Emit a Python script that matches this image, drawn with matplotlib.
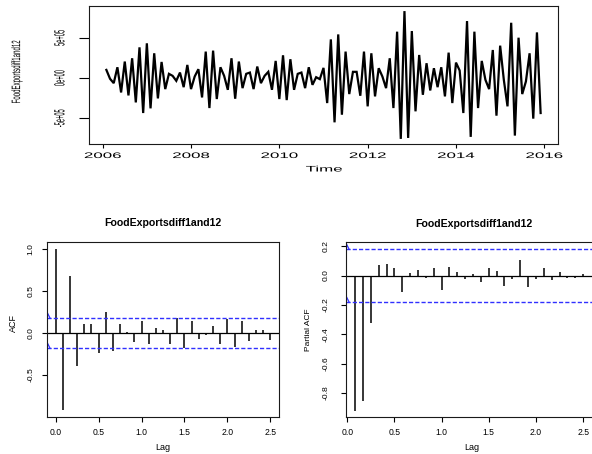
import numpy as np
import matplotlib
matplotlib.use("Agg")
import matplotlib.pyplot as plt
from matplotlib.patheffects import AbstractPathEffect
from matplotlib.transforms import Affine2D

# ---------------- data ----------------
series_start = 2006 + 1 / 12          # Feb 2006, monthly
series_freq = 12
# FoodExports differenced at lag 1 and lag 12, in units of 1e5
food_exports_diff_1e5 = [
    1.03, -0.08, -0.62, 1.36, -1.78, 2.07, -2.15, 2.48, -3.02, 3.84,
    -4.34, 4.34, -3.76, 3.10, -2.52, 2.02, -1.36, 0.54, 0.29, -0.33,
    0.70, -1.12, 1.65, -1.36, 0.21, 1.12, -2.40, 3.31, -3.72, 3.43,
    -2.60, 1.36, 0.29, -1.45, 2.48, -2.56, 2.07, -1.24, 0.54, 0.70,
    -1.36, 1.45, -0.62, 0.29, 0.79, -1.45, 2.15, -2.60, 2.85, -2.73,
    2.36, -1.45, 0.54, 0.70, -1.24, 1.36, -0.83, 0.12, -0.12, 1.28,
    -3.10, 4.83, -5.50, 5.45, -4.55, 3.31, -1.98, 0.79, 0.79, -2.19,
    3.31, -3.51, 3.10, -2.27, 1.24, 0.21, -1.24, 2.48, -3.72, 5.79,
    -7.56, 8.35, -7.44, 5.87, -4.13, 2.89, -2.07, 1.86, -1.53, 1.24,
    -1.12, 1.36, -2.27, 3.18, -3.10, 1.94, 0.95, -4.34, 7.11, -7.31,
    5.79, -3.72, 2.15, -0.21, -1.36, 3.51, -4.67, 4.05, -0.21, -3.51,
    6.90, -7.15, 5.04, -1.98, -0.41, 3.10, -5.04, 5.70, -4.34,
]
year_ticks = [2006, 2008, 2010, 2012, 2014, 2016]
level_ticks = [-5e5, 0, 5e5]
level_labels = ["-5e+05", "0e+00", "5e+05"]

acf_values = [
    1.0, -0.912, 0.681, -0.39, 0.108, 0.108, -0.231, 0.255, -0.207, 0.108,
    0.012, -0.104, 0.143, -0.127, 0.06, 0.04, -0.127, 0.179, -0.183, 0.143,
    -0.068, -0.02, 0.084, -0.127, 0.167, -0.163, 0.139, -0.096, 0.04, 0.04,
    -0.08,
]
pacf_values = [
    -0.92, -0.855, -0.324, 0.074, 0.08, 0.048, -0.11, 0.018, 0.037, -0.018,
    0.048, -0.097, 0.057, 0.025, -0.025, 0.009, -0.041, 0.048, 0.032, -0.074,
    -0.023, 0.108, -0.076, -0.023, 0.048, -0.028, 0.023, -0.018, -0.014, 0.009,
]
lag_ticks = [0.0, 0.5, 1.0, 1.5, 2.0, 2.5]
acf_yticks = [-0.5, 0.0, 0.5, 1.0]
pacf_yticks = [-0.8, -0.6, -0.4, -0.2, 0.0, 0.2]
title_text = "FoodExportsdiff1and12"

# ---------------- helpers ----------------
class Stretch(AbstractPathEffect):
    """Scale the drawn text glyphs about their centre (text stays a Text)."""
    def __init__(self, sx=1.0, sy=1.0):
        super().__init__()
        self.sx, self.sy = sx, sy

    def draw_path(self, renderer, gc, tpath, affine, rgbFace=None):
        ext = tpath.get_extents(affine)
        cx = ext.x0 + ext.width / 2
        cy = ext.y0 + ext.height / 2
        t = affine + Affine2D().translate(-cx, -cy).scale(self.sx, self.sy).translate(cx, cy)
        renderer.draw_path(gc, tpath, t, rgbFace)


plt.rcParams["font.family"] = ["Liberation Sans", "DejaVu Sans"]
W, H = 592, 454
fig = plt.figure(figsize=(W / 100, H / 100), dpi=100)


def rect(l, t, r, b):
    return [l / W, 1 - b / H, (r - l) / W, (b - t) / H]


def fx(x):
    return x / W


def fy(y):
    return 1 - y / H


BLUE = "#3030ff"
SPINE = "#1a1a1a"


def bound_lines(ax, clim, rect_px):
    """Dashed significance bounds plus the small slanted lead-in at the left edge."""
    x0, x1 = ax.get_xlim()
    y0, y1 = ax.get_ylim()
    px_w = rect_px[2] - rect_px[0]
    px_h = rect_px[3] - rect_px[1]
    dx = 3.0 * (x1 - x0) / px_w
    dy = 6.0 * (y1 - y0) / px_h
    for c in (clim, -clim):
        ax.axhline(c, color=BLUE, lw=1.0, ls=(0, (3, 1.5)))
        ax.plot([x0, x0 + dx], [c + dy, c], color=BLUE, lw=0.9, clip_on=True)


# ---------------- top: time series ----------------
y = np.asarray(food_exports_diff_1e5) * 1e5
t = series_start + np.arange(len(y)) / series_freq

ax1 = fig.add_axes(rect(89, 6, 558, 144))
ax1.plot(t, y, color="black", lw=1.6, solid_joinstyle="miter")
rng = t.max() - t.min()
ax1.set_xlim(t.min() - 0.04 * rng, t.max() + 0.04 * rng)
yr = y.max() - y.min()
ax1.set_ylim(y.min() - 0.04 * yr, y.max() + 0.04 * yr)
ax1.set_xticks(year_ticks, [str(v) for v in year_ticks])
ax1.set_yticks(level_ticks, level_labels)
ax1.tick_params(axis="x", length=3, width=0.8, pad=3.5, labelsize=5.8)
ax1.tick_params(axis="y", length=7.2, width=0.8, pad=12, labelsize=4.1, labelrotation=90)
for lbl in ax1.get_xticklabels():
    lbl.set_path_effects([Stretch(2.1, 1.0)])
for lbl in ax1.get_yticklabels():
    lbl.set_path_effects([Stretch(2.6, 1.0)])
    lbl.set_va("center")
for s in ax1.spines.values():
    s.set_linewidth(0.8)
    s.set_color(SPINE)
fig.text(fx(324), fy(170), "Time", ha="center", va="center", fontsize=5.8,
         path_effects=[Stretch(2.1, 1.0)])
fig.text(fx(17), fy(72), "FoodExportsdiff1and12", ha="center", va="center",
         rotation=90, fontsize=4.4, path_effects=[Stretch(2.0, 1.0)])

# ---------------- bottom-left: ACF ----------------
n_obs = len(y)
clim = 1.96 / np.sqrt(n_obs)
acf_lags = np.arange(len(acf_values)) / series_freq

acf_px = (47, 242, 279, 417)
ax2 = fig.add_axes(rect(*acf_px))
ax2.vlines(acf_lags, 0, acf_values, color="black", lw=1.1)
ax2.axhline(0, color="black", lw=0.9)
ax2.set_xlim(-0.1, 2.6)
ax2.set_ylim(-1.0, 1.087)
bound_lines(ax2, clim, acf_px)
ax2.set_xticks(lag_ticks, [f"{v:.1f}" for v in lag_ticks])
ax2.set_yticks(acf_yticks, [f"{v:.1f}" for v in acf_yticks])
ax2.tick_params(axis="x", length=3.6, width=0.8, pad=4.0, labelsize=6.2)
ax2.tick_params(axis="y", length=3.6, width=0.8, pad=5.2, labelsize=6.1, labelrotation=90)
for lbl in ax2.get_yticklabels():
    lbl.set_va("center")
for s in ax2.spines.values():
    s.set_linewidth(0.8)
    s.set_color(SPINE)
fig.text(fx(163), fy(223), title_text, ha="center", va="center", fontsize=7.6,
         fontweight="bold")
fig.text(fx(163), fy(447), "Lag", ha="center", va="center", fontsize=6.5)
fig.text(fx(13), fy(323), "ACF", ha="center", va="center", fontsize=6.5, rotation=90)

# ---------------- bottom-right: PACF ----------------
pacf_lags = np.arange(1, len(pacf_values) + 1) / series_freq

pacf_px = (346, 242, 593, 417)
ax3 = fig.add_axes(rect(*pacf_px))
ax3.vlines(pacf_lags, 0, pacf_values, color="black", lw=1.1)
ax3.axhline(0, color="black", lw=0.9)
ax3.set_xlim(-0.013, 2.605)
ax3.set_ylim(-0.963, 0.228)
bound_lines(ax3, clim, pacf_px)
ax3.set_xticks(lag_ticks, [f"{v:.1f}" for v in lag_ticks])
ax3.set_yticks(pacf_yticks, [f"{v:.1f}" for v in pacf_yticks])
ax3.tick_params(axis="x", length=3.6, width=0.8, pad=4.0, labelsize=6.2)
ax3.tick_params(axis="y", length=3.6, width=0.8, pad=8.3, labelsize=6.1, labelrotation=90)
for lbl in ax3.get_yticklabels():
    lbl.set_va("center")
for s in ax3.spines.values():
    s.set_linewidth(0.8)
    s.set_color(SPINE)
ax3.spines["right"].set_visible(False)
fig.text(fx(474), fy(224), title_text, ha="center", va="center", fontsize=7.6,
         fontweight="bold")
fig.text(fx(472), fy(447), "Lag", ha="center", va="center", fontsize=6.5)
fig.text(fx(309), fy(330), "Partial ACF", ha="center", va="center", fontsize=6.0,
         rotation=90)

fig.savefig("out.png", dpi=100)
